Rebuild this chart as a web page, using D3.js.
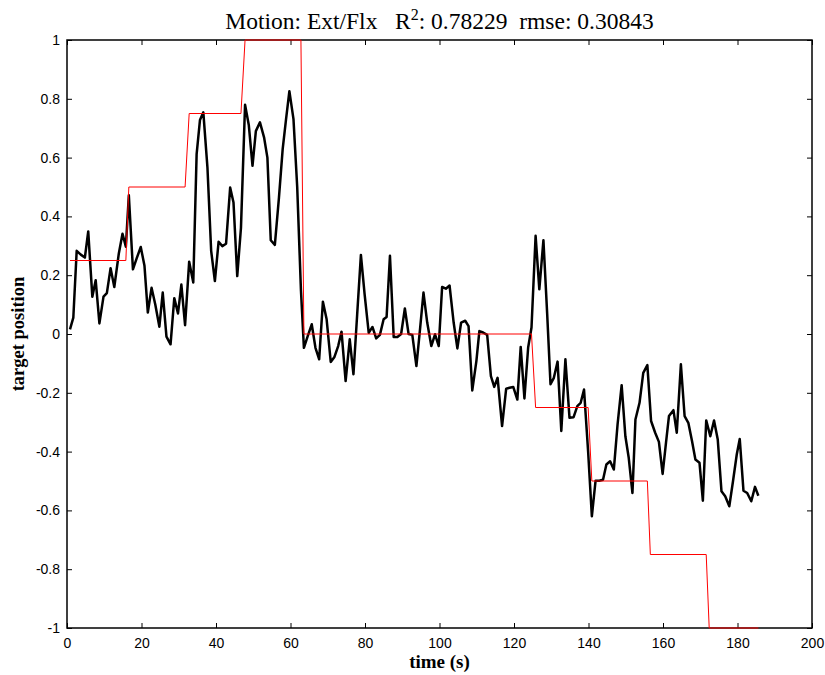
<!DOCTYPE html>
<html>
<head>
<meta charset="utf-8">
<script src="https://cdn.jsdelivr.net/npm/d3@7"></script>
<style>
  body { margin: 0; background: #fff; }
  svg { display: block; }
  .tick text { font-family: "Liberation Sans", Arial, sans-serif; font-size: 14px; fill: #000; }
  .tick line { stroke: #000; stroke-width: 1; }
</style>
</head>
<body>
<svg id="chart" width="825" height="675"></svg>
<script>
// measured position (black trace)
var time = [
  0.8, 1.7, 2.6, 3.7, 4.8, 5.7, 6.8, 7.7, 8.7, 9.8, 10.7, 11.7, 12.7, 13.9, 14.9, 15.8, 16.6, 17.7, 18.7, 19.8,
  20.8, 21.7, 22.7, 23.7, 24.8, 25.7, 26.7, 27.8, 28.8, 29.8, 30.7, 31.7, 32.8, 33.9, 34.8, 35.7, 36.6, 37.7, 38.7, 39.7,
  40.7, 41.7, 42.7, 43.8, 44.7, 45.7, 46.7, 47.8, 48.8, 49.8, 50.7, 51.8,
  52.9, 53.8, 54.7, 55.8, 56.9, 57.9, 58.8, 59.7, 60.8, 61.8, 62.8, 63.6,
  64.6, 65.7, 66.7, 67.7, 68.7, 69.7, 70.8, 71.8, 72.8, 73.7, 74.8, 75.9, 76.9, 77.9, 78.9, 79.9, 81.0, 82.0, 83.0, 84.0, 85.0,
  85.8, 86.7, 87.7, 88.7, 89.7, 90.7, 91.7, 92.7, 93.8, 94.8, 95.7, 96.7, 97.8, 98.8, 99.8, 100.7, 101.7, 102.7, 103.8, 104.8,
  105.8, 106.9, 107.8, 108.8, 109.9, 110.7,
  111.7, 112.8, 113.8, 114.7, 115.6, 116.8, 117.9, 118.8, 119.8, 120.9, 121.8, 122.8, 123.8, 124.7, 125.8, 126.8, 127.9,
  128.9, 129.8, 130.7, 131.7, 132.7, 133.8, 134.9, 136.0,
  137.0, 137.9, 138.8, 139.9, 140.9, 141.9, 142.9, 143.9, 144.8, 145.8, 146.8, 147.8, 148.9, 149.9, 150.8, 151.8, 152.6,
  153.7, 154.7, 155.8, 156.8, 157.9, 158.9, 159.9,
  160.8, 161.6, 162.8, 163.7, 164.8, 165.8, 166.8, 167.8, 168.7, 169.8, 170.7, 171.6, 172.7, 173.7, 174.7, 175.7, 176.7,
  177.8, 178.8, 179.8, 180.6, 181.6, 182.6, 183.7, 184.7, 185.6
];
var position = [
  0.016, 0.056, 0.283, 0.27, 0.26, 0.349, 0.127, 0.183, 0.036, 0.127, 0.139, 0.224, 0.16, 0.273, 0.341, 0.297, 0.472, 0.22, 0.257, 0.296,
  0.232, 0.073, 0.157, 0.1, 0.025, 0.141, -0.009, -0.035, 0.122, 0.07, 0.168, 0.03, 0.246, 0.175, 0.612, 0.728, 0.754, 0.567, 0.283, 0.18,
  0.314, 0.299, 0.307, 0.498, 0.447, 0.197, 0.361, 0.78, 0.711, 0.572, 0.69, 0.72,
  0.669, 0.6, 0.319, 0.303, 0.464, 0.629, 0.73, 0.826, 0.731, 0.5, 0.15, -0.047,
  -0.008, 0.033, -0.047, -0.086, 0.11, 0.05, -0.095, -0.078, -0.041, 0.008, -0.16, -0.018, -0.137, 0.067, 0.269, 0.135, 0.004, 0.024, -0.015, -0.003, 0.05,
  0.058, 0.266, -0.01, -0.01, 0.0, 0.087, 0.0, -0.003, -0.109, 0.02, 0.141, 0.039, -0.041, -0.001, -0.041, 0.16, 0.154, 0.165, 0.039, -0.049,
  0.039, 0.045, 0.027, -0.192, -0.092, 0.01,
  0.005, -0.003, -0.143, -0.18, -0.149, -0.313, -0.186, -0.183, -0.18, -0.223, -0.044, -0.219, -0.046, 0.022, 0.334, 0.152, 0.319,
  0.07, -0.171, -0.149, -0.094, -0.33, -0.086, -0.285, -0.283,
  -0.245, -0.234, -0.189, -0.40, -0.62, -0.499, -0.499, -0.496, -0.444, -0.433, -0.461, -0.308, -0.174, -0.348, -0.421, -0.541, -0.291,
  -0.234, -0.132, -0.106, -0.296, -0.336, -0.367, -0.476,
  -0.37, -0.279, -0.259, -0.336, -0.103, -0.279, -0.302, -0.365, -0.427, -0.438, -0.567, -0.294, -0.348, -0.294, -0.359, -0.535, -0.552,
  -0.586, -0.50, -0.41, -0.357, -0.533, -0.541, -0.569, -0.52, -0.55
];

// target (red step trace)
var targetTime = [0.8, 15.8, 16.6, 31.7, 32.8, 46.7, 47.8, 62.8, 63.6, 124.7, 125.8, 139.9, 140.9, 155.8, 156.6, 171.6, 172.4, 185.6];
var targetLevel = [0.25, 0.25, 0.5, 0.5, 0.75, 0.75, 1, 1, 0, 0, -0.25, -0.25, -0.5, -0.5, -0.75, -0.75, -1, -1];

var xTicks = [0, 20, 40, 60, 80, 100, 120, 140, 160, 180, 200];
var yTicks = [-1, -0.8, -0.6, -0.4, -0.2, 0, 0.2, 0.4, 0.6, 0.8, 1];

(function () {
  var svg = d3.select("#chart");
  var plotLeft = 67, plotRight = 812, plotTop = 40, plotBottom = 628;

  var x = d3.scaleLinear().domain([0, 200]).range([plotLeft, plotRight]);
  var y = d3.scaleLinear().domain([-1, 1]).range([plotBottom, plotTop]);

  var fmt = function (d) { return String(d); };
  var noDomain = function (g) { g.select(".domain").remove(); };

  // axes, ticks pointing inward
  svg.append("g")
    .attr("transform", "translate(0," + plotBottom + ")")
    .call(d3.axisBottom(x).tickValues(xTicks).tickFormat(fmt).tickSizeInner(-5).tickSizeOuter(0).tickPadding(10))
    .call(noDomain);
  svg.append("g")
    .attr("transform", "translate(0," + plotTop + ")")
    .call(d3.axisTop(x).tickValues(xTicks).tickFormat("").tickSizeInner(-5).tickSizeOuter(0))
    .call(noDomain);
  svg.append("g")
    .attr("transform", "translate(" + plotLeft + ",0)")
    .call(d3.axisLeft(y).tickValues(yTicks).tickFormat(fmt).tickSizeInner(-5).tickSizeOuter(0).tickPadding(7))
    .call(noDomain);
  svg.append("g")
    .attr("transform", "translate(" + plotRight + ",0)")
    .call(d3.axisRight(y).tickValues(yTicks).tickFormat("").tickSizeInner(-5).tickSizeOuter(0))
    .call(noDomain);

  // box
  svg.append("rect")
    .attr("x", plotLeft).attr("y", plotTop)
    .attr("width", plotRight - plotLeft).attr("height", plotBottom - plotTop)
    .attr("fill", "none").attr("stroke", "#000").attr("stroke-width", 1.5);

  // black measured line
  var line = d3.line()
    .x(function (d, i) { return x(time[i]); })
    .y(function (d) { return y(d); });

  svg.append("path")
    .datum(position)
    .attr("fill", "none")
    .attr("stroke", "#000")
    .attr("stroke-width", 2.5)
    .attr("stroke-linejoin", "round")
    .attr("d", line);

  // red target line
  var stepLine = d3.line()
    .x(function (d, i) { return x(targetTime[i]); })
    .y(function (d) { return y(d); });

  svg.append("path")
    .datum(targetLevel)
    .attr("fill", "none")
    .attr("stroke", "#ff0000")
    .attr("stroke-width", 1)
    .attr("d", stepLine);

  // title
  var title = svg.append("text")
    .attr("x", (plotLeft + plotRight) / 2)
    .attr("y", 29)
    .attr("text-anchor", "middle")
    .attr("font-family", "'Liberation Serif', 'Times New Roman', serif")
    .attr("font-size", 23.5)
    .attr("xml:space", "preserve");
  title.append("tspan").text("Motion: Ext/Flx   R");
  title.append("tspan").attr("dy", -9).attr("font-size", 16).text("2");
  title.append("tspan").attr("dy", 9).text(": 0.78229  rmse: 0.30843");

  // axis labels
  svg.append("text")
    .attr("x", (plotLeft + plotRight) / 2)
    .attr("y", 668)
    .attr("text-anchor", "middle")
    .attr("font-family", "'Liberation Serif', 'Times New Roman', serif")
    .attr("font-weight", "bold")
    .attr("font-size", 19)
    .text("time (s)");

  svg.append("text")
    .attr("transform", "translate(24," + y(0) + ") rotate(-90)")
    .attr("text-anchor", "middle")
    .attr("font-family", "'Liberation Serif', 'Times New Roman', serif")
    .attr("font-weight", "bold")
    .attr("font-size", 18.5)
    .text("target position");
})();
</script>
</body>
</html>
